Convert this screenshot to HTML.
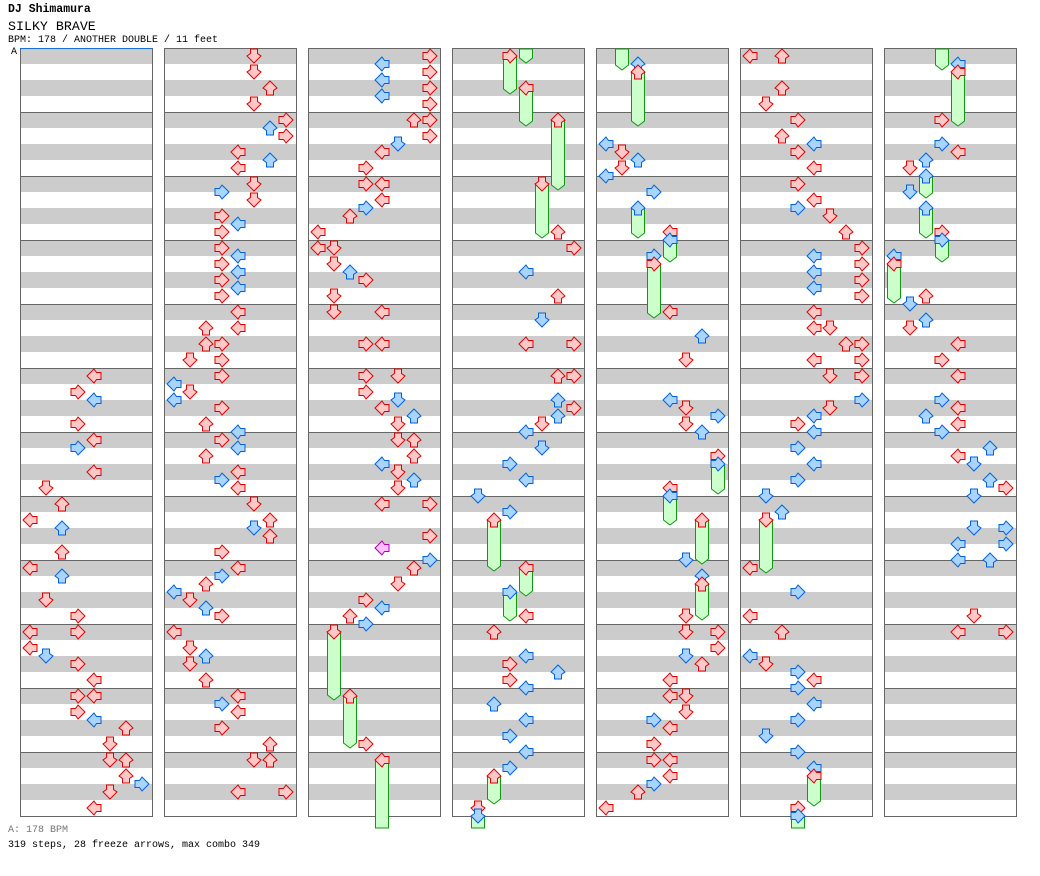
<!DOCTYPE html>
<html><head><meta charset="utf-8"><style>
html,body{margin:0;padding:0;background:#fff;width:1040px;height:876px;overflow:hidden}
.t{position:absolute;left:8px;font-family:"Liberation Mono",monospace;color:#000;white-space:pre;line-height:1}
</style></head><body>
<div class="t" style="top:4px;font-size:11.5px;font-weight:bold">DJ Shimamura</div>
<div class="t" style="top:20px;font-size:13.3px">SILKY BRAVE</div>
<div class="t" style="top:36px;font-size:10px">BPM: 178 / ANOTHER DOUBLE / 11 feet</div>
<div class="t" style="top:48px;left:11px;font-size:10px">A</div>
<div class="t" style="top:826px;font-size:10px;color:#777">A: 178 BPM</div>
<div class="t" style="top:841px;font-size:10px">319 steps, 28 freeze arrows, max combo 349</div>
<svg id="s" width="1040" height="876" style="position:absolute;left:0;top:0" xmlns="http://www.w3.org/2000/svg"></svg>
<script>
var cols=[
[[376,4],[392,3],[400,4],[424,3],[440,4],[448,3],[472,4],[488,1],[504,2],[520,0],[528,2],[552,2],[568,0],[576,2],[600,1],[616,3],[632,0],[632,3],[648,0],[656,1],[664,3],[680,4],[696,3],[696,4],[712,3],[720,4],[728,6],[744,5],[760,5],[760,6],[776,6],[784,7],[792,5],[808,4]],
[[56,5],[72,5],[88,6],[104,5],[120,7],[128,6],[136,7],[152,4],[160,6],[168,4],[184,5],[192,3],[200,5],[216,3],[224,4],[232,3],[248,3],[256,4],[264,3],[272,4],[280,3],[288,4],[296,3],[312,4],[328,2],[328,4],[344,2],[344,3],[360,1],[360,3],[376,3],[384,0],[392,1],[400,0],[408,3],[424,2],[432,4],[440,3],[448,4],[456,2],[472,4],[480,3],[488,4],[504,5],[520,6],[528,5],[536,6],[552,3],[568,4],[576,3],[584,2],[592,0],[600,1],[608,2],[616,3],[632,0],[648,1],[656,2],[664,1],[680,2],[696,4],[704,3],[712,4],[728,3],[744,6],[760,5],[760,6],[792,4],[792,7]],
[[56,7],[64,4],[72,7],[80,4],[88,7],[96,4],[104,7],[120,6],[120,7],[136,7],[144,5],[152,4],[168,3],[184,3],[184,4],[200,4],[208,3],[216,2],[232,0],[248,0],[248,1],[264,1],[272,2],[280,3],[296,1],[312,1],[312,4],[344,3],[344,4],[376,3],[376,5],[392,3],[400,5],[408,4],[416,6],[424,5],[440,5],[440,6],[456,6],[464,4],[472,5],[480,6],[488,5],[504,4],[504,7],[536,7],[548,4,'p'],[560,7],[568,6],[584,5],[600,3],[608,4],[616,2],[624,3],[632,1],[696,2],[744,3],[760,4]],
[[56,3],[88,4],[120,6],[184,5],[232,6],[248,7],[272,4],[296,6],[320,5],[344,4],[344,7],[376,6],[376,7],[400,6],[408,7],[416,6],[424,5],[432,4],[448,5],[464,3],[480,4],[496,1],[512,3],[520,2],[568,4],[592,3],[616,4],[632,2],[656,4],[664,3],[672,6],[680,3],[688,4],[704,2],[720,4],[736,3],[752,4],[768,3],[776,2],[808,1],[816,1]],
[[64,2],[72,2],[144,0],[152,1],[160,2],[168,1],[176,0],[192,3],[208,2],[232,4],[240,4],[256,3],[264,3],[312,4],[336,6],[360,5],[400,4],[408,5],[416,7],[424,5],[432,6],[456,7],[464,7],[488,4],[496,4],[520,6],[560,5],[576,6],[584,6],[616,5],[632,5],[632,7],[648,7],[656,5],[664,6],[680,4],[696,4],[696,5],[712,5],[720,3],[728,4],[744,3],[760,3],[760,4],[776,4],[784,3],[792,2],[808,0]],
[[56,0],[56,2],[88,2],[104,1],[120,3],[136,2],[144,4],[152,3],[168,4],[184,3],[200,4],[208,3],[216,5],[232,6],[248,7],[256,4],[264,7],[272,4],[280,7],[288,4],[296,7],[312,4],[328,4],[328,5],[344,6],[344,7],[360,4],[360,7],[376,5],[376,7],[400,7],[408,5],[416,4],[424,3],[432,4],[448,3],[464,4],[480,3],[496,1],[512,2],[520,1],[568,0],[592,3],[616,0],[632,2],[656,0],[664,1],[672,3],[680,4],[688,3],[704,4],[720,3],[736,1],[752,3],[768,4],[776,4],[808,3],[816,3]],
[[64,4],[72,4],[120,3],[144,3],[152,4],[160,2],[168,1],[176,2],[192,1],[208,2],[232,3],[240,3],[256,0],[264,0],[296,2],[304,1],[320,2],[328,1],[344,4],[360,3],[376,4],[400,3],[408,4],[416,2],[424,4],[432,3],[448,6],[456,4],[464,5],[480,6],[488,7],[496,5],[528,5],[528,7],[544,4],[544,7],[560,4],[560,6],[616,5],[632,4],[632,7]]
];
var frz=[
[2,1,632,700],[2,2,696,748],[2,4,760,828],
[3,4,49,63],[3,3,56,94],[3,4,88,126],[3,6,120,190],[3,5,184,238],[3,2,520,571],[3,4,568,596],[3,3,592,621],[3,2,776,804],[3,1,816,828],
[4,1,49,70],[4,2,72,126],[4,2,208,238],[4,4,240,262],[4,3,264,318],[4,7,464,494],[4,4,496,525],[4,6,520,564],[4,6,584,620],
[5,1,520,573],[5,4,776,806],[5,3,816,828],
[6,3,49,70],[6,4,72,126],[6,2,176,198],[6,2,208,238],[6,3,240,262],[6,0,264,303]
];
var h='';
for(var c=0;c<7;c++){var X=20+144*c;
 for(var m=0;m<12;m++){var Y=48+64*m;h+='<rect x="'+X+'" y="'+Y+'" width="132" height="16" fill="#cccccc"/><rect x="'+X+'" y="'+(Y+32)+'" width="132" height="16" fill="#cccccc"/>';
  if(m>0)h+='<line x1="'+X+'" x2="'+(X+132)+'" y1="'+(Y+0.5)+'" y2="'+(Y+0.5)+'" stroke="#666"/>';}
 h+='<rect x="'+(X+0.5)+'" y="48.5" width="132" height="768" fill="none" stroke="#666"/>';
}
h+='<line x1="20" x2="152" y1="48.5" y2="48.5" stroke="#1a6fd6"/>';
frz.forEach(function(f){var x=20+144*f[0]+2+16*f[1],y0=f[2],y1=f[3];
 var tip=(y1>=826)?0:5;
 h+='<polygon points="'+(x+1.5)+','+y0+' '+(x+14.5)+','+y0+' '+(x+14.5)+','+(y1-tip)+' '+(x+8)+','+y1+' '+(x+1.5)+','+(y1-tip)+'" fill="#ccffcc" stroke="#119911"/>';});
var rot=[90,0,180,270];
var P='4.5,1 11.5,1 11.5,5.5 15,8 8,15 1,8 4.5,5.5';
cols.forEach(function(a,c){a.forEach(function(n){var y=n[0]-8,L=n[1];var x=20+144*c+2+16*L;
 var col=n[2]=='p'?['#ffc0ff','#b000b0']:(((n[0]-56)%16==0)?['#ffc8c8','#dd0000']:['#a8d4ff','#0060dd']);
 h+='<g transform="translate('+x+','+y+') rotate('+rot[L%4]+',8,8)"><polygon points="'+P+'" fill="'+col[0]+'" stroke="'+col[1]+'" stroke-width="1"/></g>';});});
document.getElementById('s').innerHTML=h;
</script>
</body></html>
